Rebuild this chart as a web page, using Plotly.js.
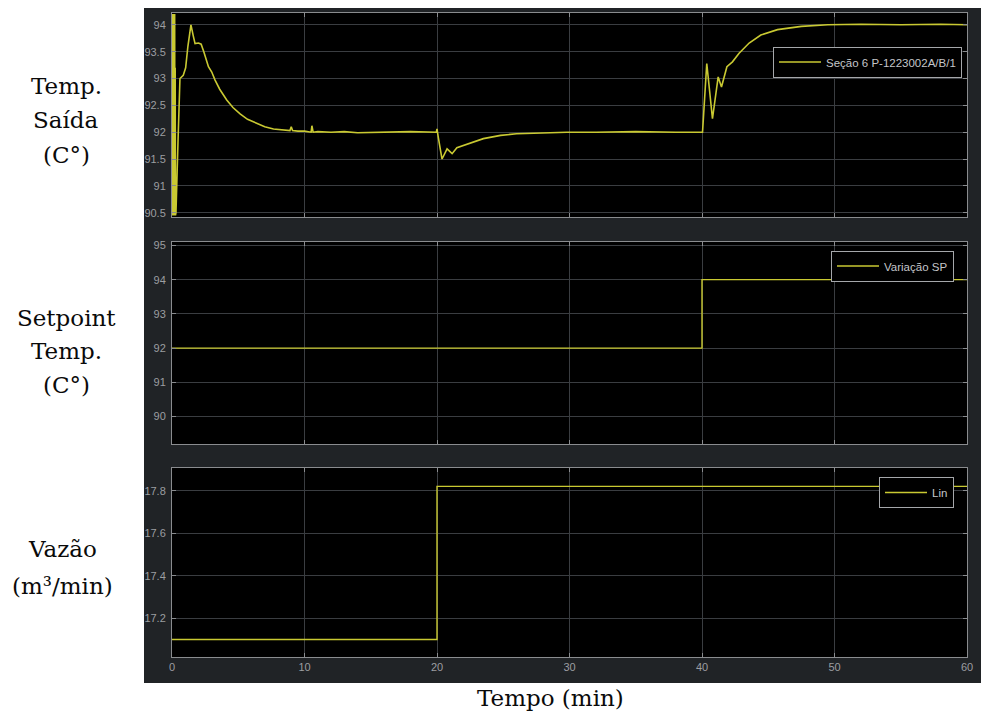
<!DOCTYPE html>
<html>
<head>
<meta charset="utf-8">
<script src="https://cdn.plot.ly/plotly-3.0.1.min.js"></script>
<style>
  html, body { margin: 0; padding: 0; background: #ffffff; }
  #chart { width: 981px; height: 712px; }
</style>
</head>
<body>
<div id="chart"></div>
<script>
// ---- Data ----
// Panel 1: outlet temperature (°C) vs time (min)
const tempTime = [0, 0.02, 0.04, 0.06, 0.08, 0.10, 0.12, 0.14, 0.16, 0.18, 0.20, 0.22, 0.24, 0.26, 0.28, 0.30,
  0.45, 0.6, 0.85, 1.03, 1.2, 1.43, 1.6, 1.74, 2.0, 2.2, 2.4, 2.75, 3.0, 3.25, 3.6, 4.13, 4.6, 5.14, 5.7, 6.4,
  7.0, 7.66, 8.3, 8.9, 9.0, 9.1, 9.5, 10.0, 10.5, 10.56, 10.65, 11, 12, 13, 14, 16, 18, 19.95,
  20.0, 20.1, 20.38, 20.76, 21.14, 21.5, 22.3, 23.5, 24.8, 26, 27.3, 29.8, 32, 35, 38, 39.99,
  40.04, 40.36, 40.79, 41.22, 41.47, 41.88, 42.3, 42.8, 43.56, 44.44, 45.7, 47.5, 49.5, 52, 55, 58, 60];
const tempValue = [94.2, 90.45, 94.2, 90.5, 94.2, 90.45, 94.2, 90.5, 94.15, 90.45, 94.2, 90.5, 93.2, 90.45, 91.8, 90.5,
  91.8, 93.0, 93.06, 93.2, 93.6, 94.0, 93.8, 93.65, 93.66, 93.64, 93.5, 93.22, 93.12, 92.97, 92.8, 92.6, 92.46, 92.34, 92.24, 92.16,
  92.1, 92.06, 92.04, 92.03, 92.1, 92.03, 92.02, 92.02, 92.0, 92.12, 92.0, 92.01, 92.0, 92.01, 91.99, 92.0, 92.01, 92.0,
  92.06, 91.9, 91.5, 91.69, 91.6, 91.71, 91.78, 91.88, 91.94, 91.97, 91.98, 92.0, 92.0, 92.01, 92.0, 92.0,
  92.0, 93.28, 92.25, 93.03, 92.84, 93.22, 93.31, 93.47, 93.66, 93.81, 93.91, 93.97, 94.0, 94.01, 94.0, 94.01, 94.0];

// Panel 2: temperature setpoint (°C)
const spTime = [0, 40, 60];
const spValue = [92, 94, 94];

// Panel 3: flow rate (m³/min)
const flowTime = [0, 20, 60];
const flowValue = [17.1, 17.82, 17.82];

// Tick values
const xTicks = [0, 10, 20, 30, 40, 50, 60];
const y1Ticks = [90.5, 91, 91.5, 92, 92.5, 93, 93.5, 94];
const y2Ticks = [90, 91, 92, 93, 94, 95];
const y3Ticks = [17.2, 17.4, 17.6, 17.8];

// Labels (one entry per text line of each panel label)
const seriesNames = ['Seção 6 P-1223002A/B/1', 'Variação SP', 'Lin'];
const panel1Label = ['Temp.', 'Saída', '(C°)'];
const panel2Label = ['Setpoint', 'Temp.', '(C°)'];
const panel3Label = ['Vazão', '(m³/min)'];
const xTitle = 'Tempo (min)';

// ---- Styling ----
const lineColor = '#c9c932';
const gridColor = '#3a3d41';
const axisLineColor = '#8a8c8f';
const tickFont = {family: 'Liberation Sans, Arial, sans-serif', size: 11, color: '#9c9ea1'};
const labelFont = {family: 'DejaVu Serif, serif', size: 23, color: '#0a0a0a'};

const traces = [
  {x: tempTime, y: tempValue, xaxis: 'x', yaxis: 'y', mode: 'lines', name: seriesNames[0],
   line: {color: lineColor, width: 1.6}, legend: 'legend'},
  {x: spTime, y: spValue, xaxis: 'x2', yaxis: 'y2', mode: 'lines', name: seriesNames[1],
   line: {color: lineColor, width: 1.4, shape: 'hv'}, legend: 'legend2'},
  {x: flowTime, y: flowValue, xaxis: 'x3', yaxis: 'y3', mode: 'lines', name: seriesNames[2],
   line: {color: lineColor, width: 1.4, shape: 'hv'}, legend: 'legend3'}
];

function xAx(showLabels) {
  return {
    domain: [0, 1], range: [0, 60], tickvals: xTicks, showticklabels: showLabels,
    tickfont: tickFont, showgrid: true, gridcolor: gridColor, gridwidth: 1, zeroline: false,
    showline: true, mirror: 'ticks', linecolor: axisLineColor, linewidth: 1,
    ticks: 'inside', ticklen: 4, tickcolor: axisLineColor, fixedrange: true
  };
}
function yAx(domain, range, ticks) {
  return {
    domain: domain, range: range, tickvals: ticks, tickfont: tickFont,
    showgrid: true, gridcolor: gridColor, gridwidth: 1, zeroline: false,
    showline: true, mirror: 'ticks', linecolor: axisLineColor, linewidth: 1,
    ticks: 'inside', ticklen: 4, tickcolor: axisLineColor, ticklabelstandoff: 3, fixedrange: true
  };
}

const legendBase = {
  bgcolor: '#000000', bordercolor: '#a5a7aa', borderwidth: 1,
  font: {family: 'Liberation Sans, Arial, sans-serif', size: 11.5, color: '#c4c6c9'},
  xanchor: 'right', yanchor: 'top', xref: 'paper', yref: 'paper',
  itemwidth: 42, tracegroupgap: 0
};

const H = 644, TOP = 13, BOTTOM = 657, L = 172, W = 795;
const py = (pix) => (BOTTOM - pix) / H;
const px = (pix) => (pix - L) / W;

function labelLines(lines, xc, ycs) {
  return lines.map((t, i) => ({
    text: t, xref: 'paper', yref: 'paper', x: px(xc), y: py(ycs[i]), showarrow: false,
    xanchor: 'center', yanchor: 'middle', align: 'center', font: labelFont
  }));
}

const annotations = []
  .concat(labelLines(panel1Label, 66, [86, 120, 155]))
  .concat(labelLines(panel2Label, 66, [318, 351, 385]))
  .concat(labelLines(panel3Label, 62, [549, 586]))
  .concat([{text: xTitle, xref: 'paper', yref: 'paper', x: px(550), y: py(698), showarrow: false,
    xanchor: 'center', yanchor: 'middle', font: labelFont}]);

const layout = {
  width: 981, height: 712,
  margin: {l: L, r: 981 - L - W, t: TOP, b: 712 - BOTTOM},
  paper_bgcolor: '#ffffff', plot_bgcolor: 'rgba(0,0,0,0)',
  showlegend: true,
  xaxis: Object.assign(xAx(false), {anchor: 'y'}),
  xaxis2: Object.assign(xAx(false), {anchor: 'y2'}),
  xaxis3: Object.assign(xAx(true), {anchor: 'y3'}),
  yaxis: Object.assign(yAx([py(217), 1], [90.42, 94.22], y1Ticks), {anchor: 'x'}),
  yaxis2: Object.assign(yAx([py(444), py(242)], [89.2, 95.1], y2Ticks), {anchor: 'x2'}),
  yaxis3: Object.assign(yAx([0, py(467.7)], [17.018, 17.908], y3Ticks), {anchor: 'x3'}),
  legend: Object.assign({}, legendBase, {x: px(962), y: py(46.5)}),
  legend2: Object.assign({}, legendBase, {x: px(954), y: py(250.5)}),
  legend3: Object.assign({}, legendBase, {x: px(954), y: py(477)}),
  shapes: [
    {type: 'rect', xref: 'paper', yref: 'paper', x0: px(144), x1: px(981), y0: py(683), y1: py(8),
     fillcolor: '#202326', line: {width: 0}, layer: 'below'},
    {type: 'rect', xref: 'x domain', yref: 'y domain', x0: 0, x1: 1, y0: 0, y1: 1,
     fillcolor: '#000000', line: {width: 0}, layer: 'below'},
    {type: 'rect', xref: 'x2 domain', yref: 'y2 domain', x0: 0, x1: 1, y0: 0, y1: 1,
     fillcolor: '#000000', line: {width: 0}, layer: 'below'},
    {type: 'rect', xref: 'x3 domain', yref: 'y3 domain', x0: 0, x1: 1, y0: 0, y1: 1,
     fillcolor: '#000000', line: {width: 0}, layer: 'below'}
  ],
  annotations: annotations
};

Plotly.newPlot('chart', traces, layout, {displayModeBar: false, staticPlot: true});
</script>
</body>
</html>
